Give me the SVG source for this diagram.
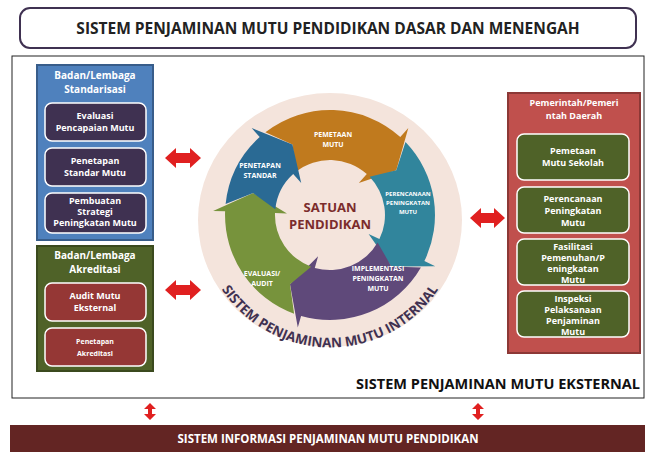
<svg xmlns="http://www.w3.org/2000/svg" width="653" height="457" viewBox="0 0 653 457">
<defs>
<style>
text{font-family:"Open Sans","DejaVu Sans",sans-serif;font-weight:bold;text-anchor:middle}
.w{fill:#fff;font-size:9px}
.t{fill:#fff;font-size:10px}
.c{fill:#fff;font-size:7px}
.ib{stroke:#fff;stroke-width:1.5}
</style>
<path id="arcTxt" d="M212,272 A130 130 0 0 0 448,272"/>
</defs>
<rect x="0" y="0" width="653" height="457" fill="#fff"/>
<g id="title"><rect x="20" y="8" width="616" height="40" rx="10" fill="#fff" stroke="#3f3151" stroke-width="2"/>
<text x="328" y="34" style="font-size:15.5px;fill:#222">SISTEM PENJAMINAN MUTU PENDIDIKAN DASAR DAN MENENGAH</text></g>
<rect x="12" y="56" width="632" height="342" fill="none" stroke="#222" stroke-width="1"/>
<g id="standarisasi">
<rect x="37" y="65" width="116" height="175" fill="#4f81bd" stroke="#385d8a" stroke-width="2"/>
<text class="t" x="95" y="79">Badan/Lembaga</text><text class="t" x="95" y="93">Standarisasi</text>
<rect class="ib" x="45" y="103" width="101" height="38" rx="7" fill="#3f3151"/>
<text class="w" x="95" y="119">Evaluasi</text><text class="w" x="95" y="131">Pencapaian Mutu</text>
<rect class="ib" x="45" y="148" width="101" height="38" rx="7" fill="#3f3151"/>
<text class="w" x="95" y="164">Penetapan</text><text class="w" x="95" y="176">Standar Mutu</text>
<rect class="ib" x="45" y="193" width="101" height="40" rx="7" fill="#3f3151"/>
<text class="w" x="95" y="204">Pembuatan</text><text class="w" x="95" y="215">Strategi</text><text class="w" x="95" y="226">Peningkatan Mutu</text>
</g>
<g id="akreditasi">
<rect x="37" y="246" width="116" height="125" fill="#4f6228" stroke="#3b4a1e" stroke-width="2"/>
<text class="t" x="95" y="259">Badan/Lembaga</text><text class="t" x="95" y="273">Akreditasi</text>
<rect class="ib" x="45" y="283" width="101" height="38" rx="7" fill="#953735"/>
<text class="w" x="95" y="299">Audit Mutu</text><text class="w" x="95" y="311">Eksternal</text>
<rect class="ib" x="45" y="328" width="101" height="38" rx="7" fill="#953735"/>
<text class="c" x="95" y="344">Penetapan</text><text class="c" x="95" y="356">Akreditasi</text>
</g>
<g id="pemerintah">
<rect x="508" y="93" width="132" height="260" fill="#c0504d" stroke="#8c3836" stroke-width="2"/>
<text class="w" x="574" y="106">Pemerintah/Pemeri</text><text class="w" x="574" y="119">ntah Daerah</text>
<rect class="ib" x="517" y="134" width="112" height="46" rx="7" fill="#4f6228"/>
<text class="w" x="573" y="154">Pemetaan</text><text class="w" x="573" y="166">Mutu Sekolah</text>
<rect class="ib" x="517" y="187" width="112" height="46" rx="7" fill="#4f6228"/>
<text class="w" x="573" y="202">Perencanaan</text><text class="w" x="573" y="214">Peningkatan</text><text class="w" x="573" y="226">Mutu</text>
<rect class="ib" x="517" y="239" width="112" height="46" rx="7" fill="#4f6228"/>
<text class="w" x="573" y="250">Fasilitasi</text><text class="w" x="573" y="261">Pemenuhan/P</text><text class="w" x="573" y="272">eningkatan</text><text class="w" x="573" y="283">Mutu</text>
<rect class="ib" x="517" y="291" width="112" height="46" rx="7" fill="#4f6228"/>
<text class="w" x="573" y="302">Inspeksi</text><text class="w" x="573" y="313">Pelaksanaan</text><text class="w" x="573" y="324">Penjaminan</text><text class="w" x="573" y="335">Mutu</text>
</g>
<g id="spmi">
<ellipse cx="330" cy="220" rx="132" ry="127" fill="#f4e4dc"/>
<path d="M265.4,132.3A105 105 0 0 1 400.3,137L408.3,128.1L396.3,170.3L358.8,183L366.8,174.1A55 55 0 0 0 296.1,171.7L292.4,144.4Z" fill="#c07a1e"/>
<path d="M405.5,142.1A105 105 0 0 1 424.4,261L435.2,266.3L391.3,266.4L368.6,233.9L379.4,239.1A55 55 0 0 0 369.6,176.8L396.3,170.3Z" fill="#31859c"/>
<path d="M420.9,267.5A105 105 0 0 1 301.1,315.9L297.8,327.5L290,284.3L318.1,256.3L314.8,267.9A55 55 0 0 0 377.6,242.5L391.3,266.4Z" fill="#5f497a"/>
<path d="M294.1,313.7A105 105 0 0 1 225.1,211.3L213.1,210.9L253.1,193L287,213.5L275,213.1A55 55 0 0 0 311.2,266.7L290,284.3Z" fill="#77933c"/>
<path d="M225.6,204A105 105 0 0 1 259.7,137L251.7,128.1L292.4,144.4L301.2,183L293.2,174.1A55 55 0 0 0 275.3,209.3L253.1,193Z" fill="#2a6a94"/>
<text class="c" x="333" y="137">PEMETAAN</text><text class="c" x="333" y="147">MUTU</text>
<text class="c" x="408" y="196" style="font-size:6px">PERENCANAAN</text><text class="c" x="408" y="205" style="font-size:6px">PENINGKATAN</text><text class="c" x="408" y="214" style="font-size:6px">MUTU</text>
<text class="c" x="378" y="271">IMPLEMENTASI</text><text class="c" x="378" y="281">PENINGKATAN</text><text class="c" x="378" y="291">MUTU</text>
<text class="c" x="262" y="276">EVALUASI/</text><text class="c" x="262" y="286">AUDIT</text>
<text class="c" x="260" y="168">PENETAPAN</text><text class="c" x="260" y="178">STANDAR</text>
<text x="330" y="212" style="font-size:13px;fill:#7b2c2c">SATUAN</text><text x="330" y="229" style="font-size:13px;fill:#7b2c2c">PENDIDIKAN</text>
<text style="font-size:13.5px;fill:#3f3151"><textPath href="#arcTxt" startOffset="50%">SISTEM PENJAMINAN MUTU INTERNAL</textPath></text>
</g>
<g id="connectors" fill="#e02020">
<path d="M165,158L176,148V153H190V148L201,158L190,168V163H176V168Z"/>
<path d="M165,290L176,280V285H190V280L201,290L190,300V295H176V300Z"/>
<path d="M470,218L481,208V213H494V208L505,218L494,228V223H481V228Z"/>
<path d="M150,403L156,409H152V414H156L150,420L144,414H148V409H144Z"/>
<path d="M478,403L484,409H480V414H484L478,420L472,414H476V409H472Z"/>
</g>
<text x="640" y="389" style="font-size:14.5px;fill:#111;text-anchor:end">SISTEM PENJAMINAN MUTU EKSTERNAL</text>
<g id="sim"><rect x="10" y="425" width="635" height="27" fill="#632523"/>
<text x="328" y="443" style="font-size:11.5px;fill:#fff">SISTEM INFORMASI PENJAMINAN MUTU PENDIDIKAN</text></g>
</svg>
